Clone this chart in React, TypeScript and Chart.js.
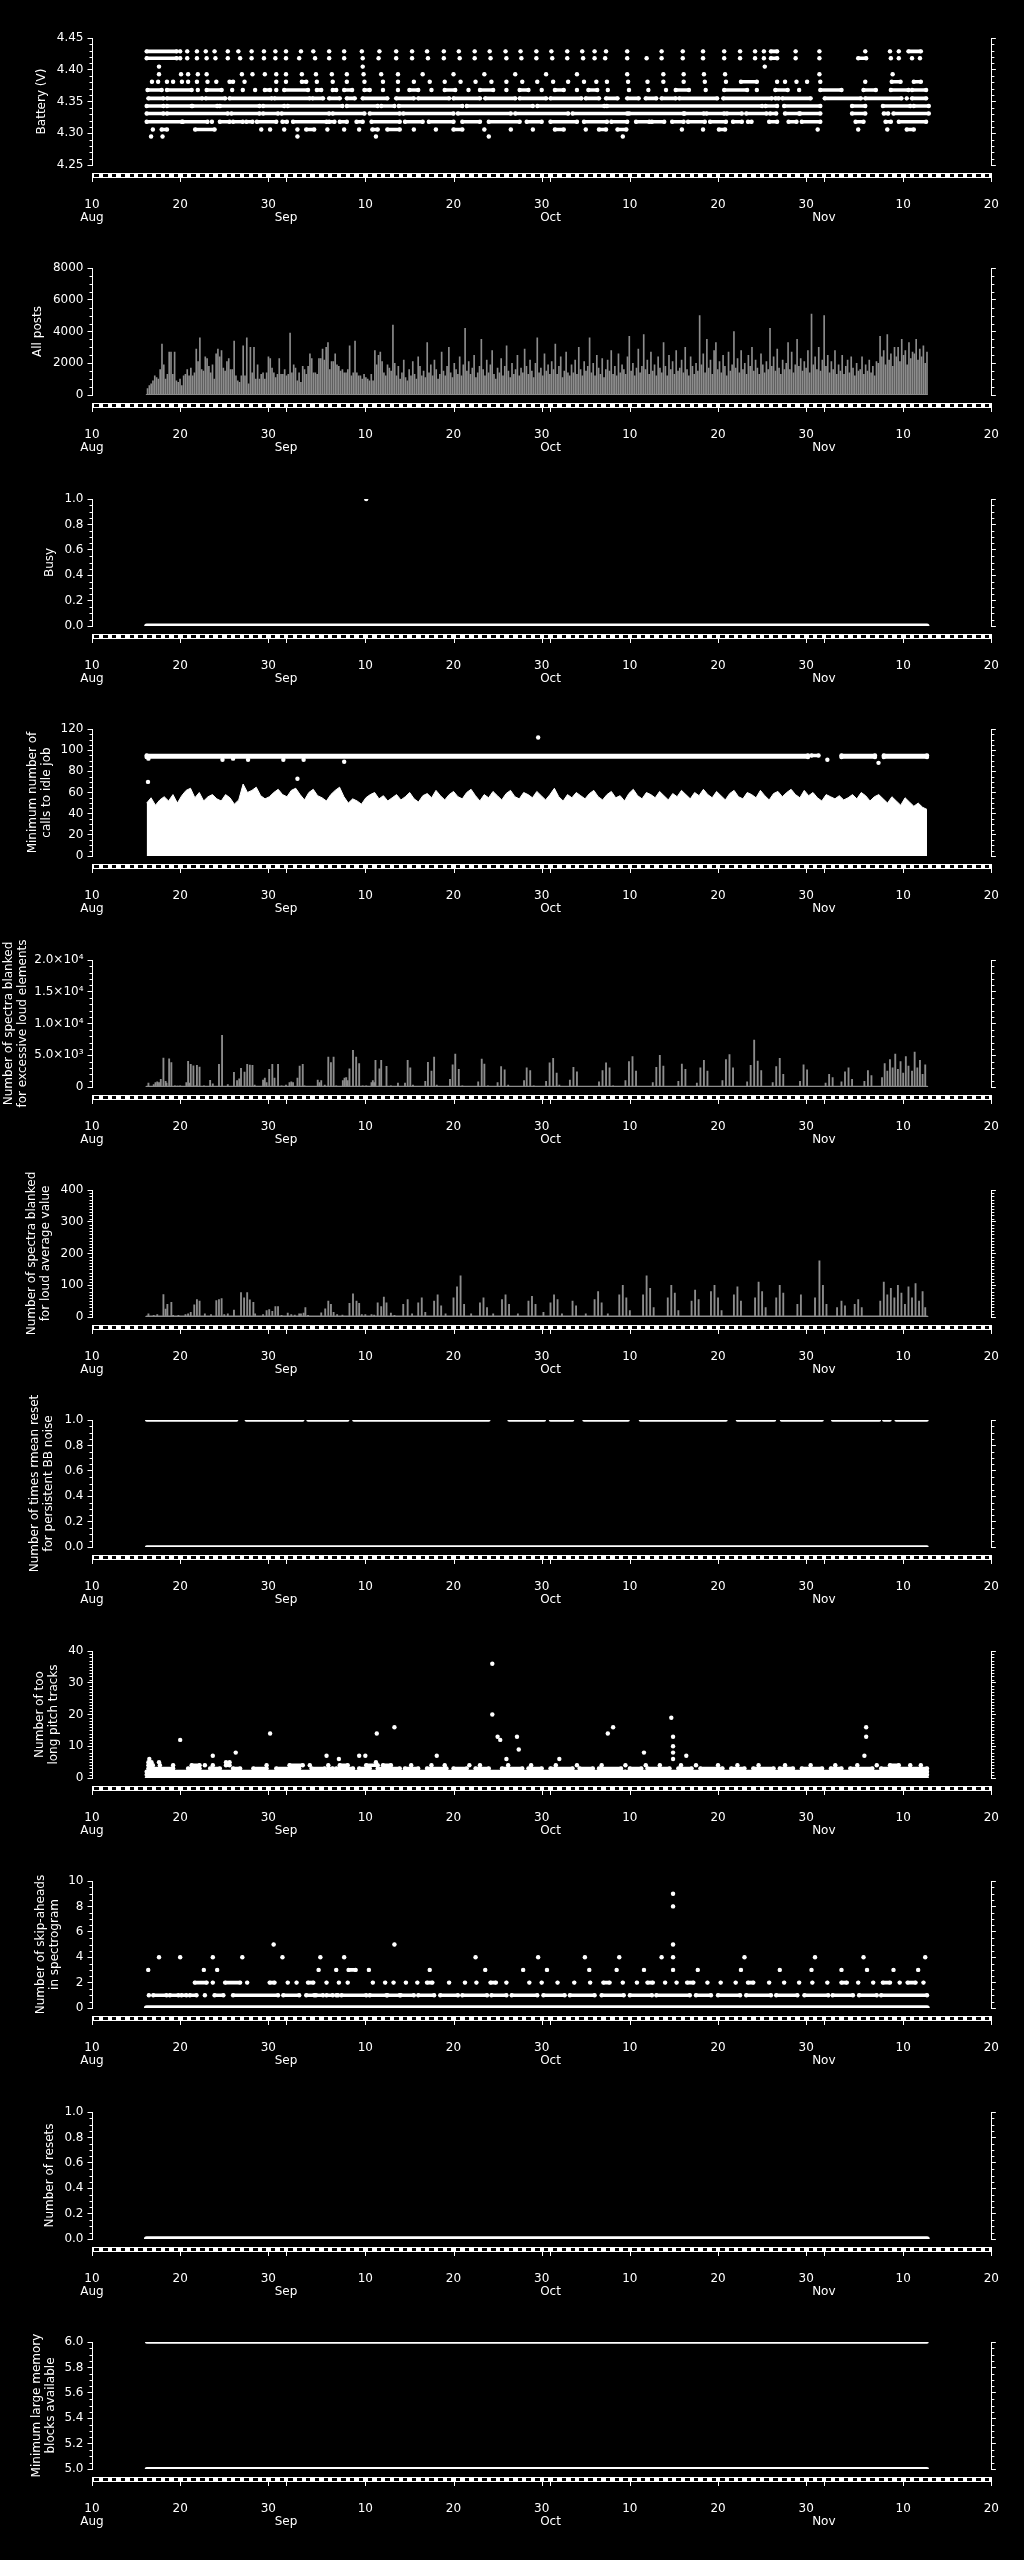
import React, { useEffect, useRef } from "react";
import { Chart, registerables } from "chart.js";

Chart.register(...registerables);

const FONT_FAMILY = "'DejaVu Sans', sans-serif";
const WHITE = "#ffffff";
const GREY = "#8c8c8c";

// ---------------- time axis: days since 10 Aug ----------------
const X_MIN = 0;
const X_MAX = 102;
const X_TICK_DAYS = [0, 10, 20, 22, 31, 41, 51, 52, 61, 71, 81, 83, 92, 102];
const X_TICK_LABELS = [["10", "Aug"], ["20"], ["30"], ["", "Sep"], ["10"], ["20"], ["30"], ["", "Oct"], ["10"], ["20"], ["30"], ["", "Nov"], ["10"], ["20"]];
const DATA_START = 6.2;
const DATA_END = 94.7;

// ---------------- Panel 1: Battery (V) ----------------
const BATT_LEVELS = [4.429, 4.418, 4.405, 4.393, 4.381, 4.368, 4.355, 4.343, 4.331, 4.318, 4.306, 4.295];
const BATT_4429 = [[6.2, 9.6], 10.0, 10.8, 11.9, 12.9, 13.9, 15.4, 16.6, 18.1, 19.5, 20.8, 22.0, 23.7, 25.1, 26.9, 28.6, 30.6, 32.6, 34.5, 36.3, 38.0, 39.9, 41.6, 43.4, 45.1, 46.9, 48.6, 50.4, 52.1, 53.9, 55.6, 57.0, 58.3, 60.7, 64.6, 67.0, 69.3, 71.7, 73.5, 75.2, 76.2, [77.0, 77.7], 79.8, 82.5, 87.7, 90.5, 91.5, [92.6, 94.0]];
const BATT_4418 = [[6.2, 9.6], 10.0, 10.8, 11.9, 13.0, 14.0, 15.4, 16.8, 18.1, 19.5, 20.8, 22.0, 23.5, 25.3, 26.9, 28.6, 30.7, 32.5, 34.5, 36.3, 38.1, 39.9, 41.7, 43.4, 45.2, 47.0, 48.7, 50.4, 52.2, 53.9, 55.7, 57.0, 58.2, 60.7, 62.9, 64.6, 67.0, 69.3, 71.7, 73.5, 75.2, 76.2, [77.0, 77.7], 79.8, 82.5, [86.9, 87.8], 90.6, 91.5, 93.0, 93.9];
const BATT_4405 = [7.6, 30.7, 76.3];
const BATT_4393 = [7.6, 10.1, 10.9, 12.0, 13.0, 17.0, 18.2, 19.6, 20.9, 22.0, 23.8, 25.4, 27.2, 28.9, 30.8, 32.8, 34.7, 37.5, 41.0, 44.5, 48.0, 51.5, 55.0, 60.7, 64.8, 67.1, 69.4, 71.8, 82.5, 90.8];
const BATT_4381 = [6.8, 7.5, 8.5, 9.2, 10.2, 10.9, 11.9, 13.1, 14.1, [15.6, 16.0], 17.3, 20.9, 22.0, [23.8, 24.3], 25.5, 27.3, 28.9, 30.9, 33.0, 34.7, 36.5, 38.3, 40.0, 41.8, 43.5, 45.3, 47.0, 48.8, 50.5, 52.3, 54.0, 55.8, 57.2, 58.4, 60.8, 63.0, 64.8, 67.1, 69.5, 71.9, [73.6, 75.4], 77.7, 78.6, 79.9, 81.1, 82.6, 87.7, [90.7, 91.7], [93.2, 94.0]];
const BATT_4368 = [[6.3, 7.9], [8.5, 11.3], 12.0, [13.0, 14.7], 15.9, 17.1, 18.5, [19.6, 20.2], 20.9, [21.8, 24.5], [25.5, 26.0], [27.3, 27.7], [28.6, 29.5], [30.9, 31.5], 33.0, 34.7, [36.0, 37.0], 38.5, [40.0, 41.2], 42.7, [44.0, 45.5], 47.0, [48.5, 49.5], 51.0, [52.5, 53.5], 55.0, [56.3, 57.3], 58.5, 60.9, 63.1, 65.1, [66.2, 67.7], 69.6, [71.7, 74.3], 75.4, [77.5, 78.9], 80.2, [82.6, 85.0], [87.5, 88.9], [90.6, 92.6], [93.0, 94.6]];
const BATT_4355 = [[6.4, 8.1], [8.5, 12.5], [12.9, 15.1], [15.6, 20.4], [20.7, 24.7], [25.0, 26.2], [26.9, 28.1], [28.9, 29.8], [30.7, 33.5], [34.5, 36.5], [37.0, 40.5], [41.0, 44.0], [44.6, 48.0], [48.5, 51.5], [52.0, 55.5], [56.0, 57.5], [58.3, 59.6], [60.7, 62.0], [62.8, 64.0], [64.6, 66.2], [66.6, 70.9], [71.6, 77.1], [77.5, 77.9], [78.3, 81.5], [83.1, 87.2], [87.7, 91.8], 92.4, [93.0, 94.6]];
const BATT_4343 = [[6.2, 8.1], [8.5, 11.3], [11.4, 14.2], [14.5, 19.0], [19.4, 21.8], [22.2, 28.4], [28.9, 32.4], [32.8, 34.3], [34.8, 42.0], [42.5, 50.0], [50.5, 58.1], [58.4, 76.0], [76.4, 77.7], [78.5, 82.6], [86.2, 87.7], [89.7, 92.8], [93.2, 94.9]];
const BATT_4331 = [[6.2, 8.1], [8.5, 15.4], [15.8, 19.0], [19.4, 21.1], [21.5, 26.9], [27.3, 30.9], [31.5, 34.9], [35.3, 41.0], [41.5, 47.5], [48.0, 54.0], [54.5, 60.7], [60.9, 67.1], [67.2, 69.4], [69.7, 71.7], [72.0, 73.7], [74.2, 76.5], [76.9, 77.6], [78.6, 80.2], [80.3, 82.6], [86.2, 87.7], [89.8, 90.3], [90.9, 94.9]];
const BATT_4318 = [[6.2, 10.2], [10.3, 13.1], 13.6, [14.5, 15.6], [16.0, 17.1], [17.5, 18.2], [18.7, 20.9], [21.6, 22.1], [22.8, 26.6], [26.9, 27.5], [28.1, 28.9], [30.0, 30.7], [31.7, 34.9], [35.5, 37.5], [38.2, 41.0], [42.0, 44.0], [45.0, 48.5], [49.3, 51.0], [52.0, 55.0], [55.8, 58.4], [58.9, 60.7], [61.7, 63.2], [63.5, 64.9], [65.8, 67.1], [67.6, 69.5], [70.1, 71.9], [72.7, 73.7], [74.4, 74.8], [76.8, 77.7], [79.0, 79.9], [80.5, 82.6], [86.6, 87.5], [90.0, 90.6], [91.5, 94.6]];
const BATT_4306 = [6.9, [7.9, 8.5], [11.7, 13.9], 19.2, 20.2, 21.8, 23.3, [24.3, 25.2], 26.7, 28.6, 30.3, [31.8, 32.4], [33.5, 34.9], 36.5, 39.0, [41.0, 42.0], 44.5, 47.5, 50.0, [52.5, 53.5], 56.0, [57.5, 58.3], [59.6, 60.6], 66.9, 69.3, [71.1, 71.8], 82.3, 86.9, 90.2, [92.4, 93.2]];
const BATT_4295 = [6.7, 8.0, 23.3, 32.2, 45.0, 60.2];
const BATT_ROWS = [BATT_4429, BATT_4418, BATT_4405, BATT_4393, BATT_4381, BATT_4368, BATT_4355, BATT_4343, BATT_4331, BATT_4318, BATT_4306, BATT_4295];

// ---------------- Panel 2: All posts (values in hundreds, evenly spaced samples) ----------------
const POSTS_START = 6.3;
const POSTS_END = 94.7;
const POSTS_HUNDREDS = [
  4, 6, 7, 9, 12, 11, 10, 16, 32, 19, 10, 13, 27, 27, 13, 27, 9, 8, 10, 6,
  12, 13, 16, 12, 17, 12, 14, 29, 21, 36, 16, 15, 24, 23, 18, 14, 19, 10, 26, 29,
  24, 28, 17, 15, 21, 23, 16, 16, 34, 12, 9, 8, 12, 31, 12, 36, 7, 30, 14, 30,
  10, 19, 10, 13, 14, 10, 14, 24, 23, 17, 14, 11, 13, 23, 13, 13, 16, 12, 13, 39,
  14, 19, 17, 9, 14, 8, 18, 16, 13, 18, 26, 23, 14, 14, 13, 23, 23, 29, 22, 30,
  33, 16, 21, 21, 26, 19, 18, 15, 16, 14, 14, 16, 31, 12, 14, 34, 14, 12, 12, 10,
  13, 11, 10, 9, 13, 9, 28, 19, 25, 27, 21, 14, 12, 19, 17,
  15, 44, 20, 12, 18, 10, 14, 22, 11, 9, 16, 12, 21, 13, 10, 24, 18, 12, 15, 11,
  33, 14, 19, 12, 22, 16, 10, 13, 27, 15, 12, 18, 30, 14, 11, 20, 16, 13, 24, 12,
  19, 42, 15, 21, 13, 17, 25, 11, 14, 18, 35, 16, 12, 22, 14, 19, 28, 13, 10, 17,
  14, 23, 12, 18, 31, 15, 11, 20, 13, 16, 25, 12, 17, 14, 29, 18, 13, 22, 15, 11,
  20, 36, 14, 17, 12, 26, 15, 19, 13, 21, 16, 32, 13, 18, 24, 11, 15, 27, 14, 12,
  19, 14, 22, 13, 30, 16, 12, 21, 15, 18, 36, 14, 20, 12, 25, 17, 13, 23, 11, 16,
  22, 15, 28, 13, 18, 12, 26, 14, 19, 16, 13, 24, 37, 15, 20, 12, 17, 29, 14, 18,
  38, 16, 22, 13, 27, 15, 19, 12, 24, 17, 14, 33, 18, 12, 25, 16, 21, 13, 28, 15,
  17, 22, 14, 30, 16, 12, 24, 18, 13, 20, 15, 50, 19, 26, 14, 35, 17, 22, 13, 28,
  33, 16, 21, 14, 25, 18, 12, 27, 15, 19, 40, 17, 23, 14, 28, 16, 20, 13, 25, 18,
  30, 15, 22, 17, 13, 26, 19, 14, 21, 16, 42, 18, 24, 15, 29, 17, 13, 22, 16, 20,
  33, 16, 27, 14, 19, 35, 18, 23, 15, 21, 17, 28, 14, 51, 19, 24, 16, 30, 15, 22,
  50, 18, 25, 14, 21, 16, 28, 13, 19, 15, 25, 13, 18, 22, 14, 24, 17, 12, 20, 15,
  16, 24, 13, 19, 15, 22, 14, 18, 12, 21, 20, 37, 24, 28, 19, 38, 22, 26, 18, 30,
  24, 30, 21, 35, 25, 28, 19, 33, 23, 27, 26, 35, 22, 29, 24, 31, 20, 27
];

// ---------------- Panel 3: Busy ----------------
const BUSY_ZERO_RUNS = [[DATA_START, DATA_END]];
const BUSY_ONE_POINTS = [31.1];

// ---------------- Panel 4: Minimum number of calls to idle job ----------------
const IDLE_CLOUD_TOP = [
  50, 55, 48, 53, 56, 52, 58, 50, 57, 62, 64, 55, 60, 52, 56, 58,
  54, 52, 58, 55, 49, 53, 68, 60, 62, 65, 57, 54, 56, 60, 63, 58,
  56, 62, 64, 58, 53, 60, 63, 57, 55, 52, 58, 62, 65, 56, 50, 54,
  52, 49, 55, 58, 60, 54, 57, 52, 55, 58, 53, 56, 60, 54, 51, 57,
  59, 55, 62, 57, 53, 58, 61, 56, 54, 60, 63, 57, 52, 58, 55, 61,
  57, 53, 59, 62, 56, 54, 60, 58, 55, 61, 57, 53, 58, 64, 56, 52,
  58, 55, 60, 57, 54, 59, 62, 56, 53, 58, 61, 55, 57, 52, 59, 63,
  57, 54, 60, 58, 55, 61, 57, 53, 59, 56, 62, 58, 54, 60, 57, 63,
  58, 55, 61, 57, 53, 59, 62, 56, 54, 60, 58, 55, 62, 57, 53, 59,
  61, 56, 60, 63, 58, 55, 62, 57, 60, 55, 52, 58, 56, 54, 57, 53,
  55, 58, 54, 60, 57, 52, 56, 58, 54, 50, 56, 52, 48, 55, 51, 47,
  50, 46, 44
];
const IDLE_BAND_95 = [[6.2, 81.2], [81.6, 82.4], [85.0, 88.8], [89.8, 94.7]];
const IDLE_BAND_94 = [[6.2, 81.2], [85.0, 88.8], [89.8, 94.7]];
const IDLE_POINTS = [[6.35, 70], [6.4, 92], [14.8, 91], [16.0, 92], [17.7, 91], [21.7, 91], [23.3, 73], [24.0, 91], [28.6, 89], [50.6, 112], [83.4, 91], [89.2, 88]];

// ---------------- Panel 5: spectra blanked for excessive loud elements ----------------
const LOUD_ELEM_BARS = [
  [6.4, 600], [7.0, 400], [7.2, 700], [7.4, 800], [7.6, 700], [7.8, 1200], [8.1, 4560], [8.35, 900], [8.45, 600], [8.75, 4450], [9.0, 3830], [9.4, 200], [9.7, 150], [10.0, 200],
  [10.7, 700], [10.9, 4030], [11.1, 600], [11.2, 3560], [11.5, 3350], [11.7, 200], [11.9, 3400], [12.2, 3140], [12.7, 200], [13.4, 1050], [13.7, 500], [14.4, 3560], [14.75, 8120],
  [15.4, 400], [16.1, 2300], [16.45, 1000], [16.7, 1300], [16.9, 2930], [17.3, 2360], [17.6, 3560], [17.9, 3450], [18.2, 3400], [18.45, 300], [19.4, 1100], [19.6, 1400], [19.8, 700],
  [20.1, 2780], [20.45, 3560], [20.7, 1400], [21.1, 3560], [21.5, 200], [22.0, 300], [22.4, 700], [22.6, 800], [22.8, 700], [23.3, 1400], [23.55, 3300], [23.9, 3560], [24.1, 200],
  [25.6, 1100], [25.8, 700], [26.0, 1000], [26.4, 300], [26.8, 4720], [27.1, 3830], [27.4, 4720], [27.7, 200], [28.45, 1000], [28.64, 1400], [28.83, 1500], [29.0, 1000], [29.2, 2880],
  [29.6, 5760], [29.96, 4720], [30.3, 3670], [30.7, 200], [31.1, 200], [31.7, 700], [31.85, 1000], [32.0, 700], [32.15, 4190], [32.6, 2880], [32.8, 4190], [33.4, 3250], [33.9, 200], [34.7, 600],
  [35.5, 600], [35.8, 4200], [36.1, 3000], [36.4, 300], [37.8, 900], [38.1, 3900], [38.5, 2500], [38.8, 4700], [39.1, 300], [40.6, 1200], [40.9, 3500], [41.2, 5200], [41.6, 2800], [42.0, 200],
  [43.8, 800], [44.2, 4400], [44.5, 3600], [44.9, 200], [46.0, 700], [46.4, 3200], [46.8, 2700], [47.2, 300], [49.0, 1000], [49.3, 3000], [49.7, 2600], [50.1, 200],
  [51.5, 900], [51.9, 3800], [52.3, 4500], [52.7, 2200], [53.0, 300], [54.2, 1100], [54.6, 3100], [55.0, 2400], [57.5, 800], [57.9, 2600], [58.3, 3800], [58.7, 3000], [59.1, 200],
  [60.5, 1000], [60.9, 4000], [61.3, 4800], [61.7, 2500], [63.6, 700], [64.0, 3100], [64.4, 5000], [64.8, 3300], [66.5, 900], [66.9, 3600], [67.3, 2800],
  [68.6, 600], [69.0, 3000], [69.4, 4200], [69.8, 2500], [71.5, 1000], [71.9, 4300], [72.3, 5100], [72.7, 3000], [74.3, 800], [74.7, 3400], [75.1, 7400], [75.5, 4100], [75.9, 2600],
  [77.2, 700], [77.6, 3200], [78.0, 4500], [78.4, 2000], [80.3, 900], [80.7, 3500], [81.1, 2700], [83.2, 600], [83.6, 2000], [84.0, 1500], [85.0, 800], [85.4, 2400], [85.8, 3000], [86.2, 1200],
  [87.6, 900], [88.0, 2600], [88.4, 1800], [89.6, 1500], [89.9, 3700], [90.2, 2500], [90.5, 4300], [90.8, 3000], [91.1, 5200], [91.4, 2800], [91.7, 4000], [92.0, 2200], [92.3, 4800],
  [92.6, 3300], [93.0, 2500], [93.3, 5500], [93.6, 3000], [93.9, 4200], [94.2, 2000], [94.5, 3500]
];

// ---------------- Panel 6: spectra blanked for loud average value ----------------
const LOUD_AVG_BARS = [
  [6.4, 10], [7.0, 5], [7.4, 8], [8.1, 71], [8.35, 25], [8.55, 40], [9.0, 46], [9.2, 5], [9.8, 5], [10.6, 8], [10.9, 10], [11.2, 15], [11.6, 38], [11.9, 55], [12.2, 50], [12.8, 10],
  [13.5, 8], [14.1, 52], [14.4, 55], [14.7, 58], [15.0, 8], [15.4, 10], [16.1, 22], [16.9, 77], [17.25, 60], [17.6, 77], [17.9, 54], [18.3, 46], [18.5, 10], [19.4, 8], [19.8, 20],
  [20.1, 23], [20.45, 18], [20.8, 33], [21.1, 33], [21.5, 5], [22.2, 12], [22.6, 8], [23.0, 6], [23.5, 10], [23.7, 10], [24.0, 12], [24.2, 30], [24.5, 5], [26.0, 13], [26.45, 26],
  [26.8, 50], [27.1, 40], [27.4, 15], [27.8, 8], [28.4, 6], [29.2, 43], [29.6, 73], [30.0, 50], [30.3, 43], [30.6, 8], [31.0, 8], [31.7, 8], [32.0, 6], [32.4, 45], [32.8, 33],
  [33.1, 63], [33.4, 45], [33.9, 12], [34.3, 5],
  [35.3, 40], [35.8, 55], [36.3, 10], [37.0, 45], [37.4, 60], [37.8, 15], [38.8, 50], [39.2, 70], [39.6, 35], [40.1, 10], [41.0, 60], [41.4, 95], [41.8, 130], [42.2, 40], [43.0, 10],
  [44.0, 45], [44.4, 60], [44.8, 30], [45.5, 10], [46.5, 55], [46.9, 70], [47.3, 40], [48.3, 10], [49.5, 50], [49.9, 65], [50.3, 40], [51.2, 15], [52.0, 45], [52.4, 70], [52.8, 55],
  [53.3, 10], [54.5, 50], [54.9, 35], [56.0, 10], [57.0, 55], [57.4, 80], [57.8, 45], [58.5, 10], [59.8, 70], [60.2, 100], [60.6, 60], [61.0, 20], [62.5, 70], [62.9, 130], [63.3, 90],
  [63.7, 30], [65.3, 60], [65.7, 100], [66.1, 75], [66.5, 20], [68.0, 50], [68.4, 85], [68.8, 55], [70.2, 80], [70.6, 100], [71.0, 60], [71.4, 20], [72.8, 70], [73.2, 95], [73.6, 50],
  [75.2, 60], [75.6, 110], [76.0, 80], [76.4, 30], [77.6, 60], [78.0, 100], [78.4, 75], [80.0, 40], [80.4, 70], [82.0, 60], [82.5, 177], [82.9, 100], [83.3, 40], [84.5, 30], [85.0, 50],
  [85.4, 35], [86.5, 40], [86.9, 55], [87.3, 30], [89.4, 50], [89.8, 110], [90.2, 70], [90.6, 90], [91.0, 60], [91.4, 100], [91.8, 75], [92.2, 40], [92.6, 95], [93.0, 60], [93.4, 105],
  [93.8, 50], [94.2, 80], [94.5, 30]
];

// ---------------- Panel 7: rmean reset ----------------
const RMEAN_ZERO_RUNS = [[DATA_START, DATA_END]];
const RMEAN_ONE_RUNS = [[6.2, 10.2], [10.4, 10.8], [10.9, 16.4], [17.5, 17.9], [18.1, 20.9], [21.1, 21.9], [22.1, 23.9], [24.5, 29.0], [29.7, 34.9], [35.0, 45.0], [47.3, 51.3], [52.0, 54.5], [55.8, 60.8], [62.2, 71.9], [73.2, 77.4], [78.2, 82.8], [84.0, 89.3], [89.8, 90.5], [91.2, 94.7]];

// ---------------- Panel 8: too long pitch tracks (integer levels) ----------------
const PITCH_L0 = [[DATA_START, DATA_END]];
const PITCH_L1 = [[DATA_START, DATA_END]];
const PITCH_L2 = [[6.2, 33.0], [33.3, 60.5], [60.8, 94.7]];
const PITCH_L3 = [[6.4, 9.2], [10.9, 12.2], [13.4, 14.5], [16.0, 16.8], [18.3, 19.8], [20.9, 23.5], [24.9, 26.4], [26.8, 27.3], [27.7, 29.6], [30.3, 31.5], [32.4, 34.9], [35.5, 37.0], [38.0, 40.2], [41.0, 42.5], [43.5, 45.0], [46.5, 48.8], [49.5, 51.0], [52.0, 54.5], [55.3, 56.8], [57.5, 60.0], [61.0, 62.3], [63.0, 65.5], [66.5, 68.0], [69.0, 71.5], [72.5, 74.0], [75.0, 77.3], [78.0, 79.5], [80.5, 82.8], [83.8, 85.0], [86.0, 88.5], [89.5, 94.7]];
const PITCH_L4 = [[6.4, 6.9], 7.7, 9.2, [11.3, 12.2], 12.8, 13.7, [15.2, 15.6], 19.8, [22.4, 23.9], 24.7, 26.8, [28.1, 29.0], [31.1, 32.4], [33.0, 33.9], 36.2, 38.5, 40.0, 42.8, 44.0, 47.2, 49.8, 52.6, 55.0, 57.8, 60.5, 62.8, 64.4, 66.8, 68.5, 71.0, 73.2, 75.6, 78.6, 81.5, 84.3, 86.8, 89.0, [90.5, 91.5], 92.8, 94.0];
const PITCH_OUTLIERS = [[6.4, 5], [6.5, 6], [6.75, 5], [7.6, 5], [10.0, 12], [13.7, 7], [15.2, 5], [15.6, 5], [16.3, 8], [20.2, 14], [26.6, 7], [28.0, 6], [30.3, 7], [31.0, 7], [32.2, 5], [32.3, 14], [34.3, 16], [39.1, 7], [45.4, 36], [45.4, 20], [46.0, 13], [46.3, 12], [47.0, 6], [48.2, 13], [48.4, 9], [53.0, 6], [58.5, 14], [59.1, 16], [62.6, 8], [65.7, 19], [65.9, 13], [65.9, 10], [65.9, 8], [65.9, 6], [67.4, 7], [87.6, 7], [87.8, 16], [87.8, 13]];

// ---------------- Panel 9: skip-aheads (integer levels) ----------------
const SKIP_L0 = [[DATA_START, DATA_END]];
const SKIP_L1 = [6.45, [6.95, 8.45], [8.83, 9.8], [10.15, 10.7], [11.1, 11.85], 12.8, [13.9, 14.9], [16.0, 21.1], [21.7, 23.5], [24.3, 25.2], [25.4, 26.2], [26.6, 27.3], [27.7, 27.9], [28.3, 31.1], [31.5, 33.4], [33.5, 34.9], [35.0, 36.5], [37.0, 38.8], [39.5, 41.5], [42.0, 44.8], [45.3, 47.0], [47.6, 50.5], [51.2, 53.6], [54.2, 57.0], [57.8, 60.3], [61.0, 63.5], [64.0, 67.8], [68.5, 70.2], [71.0, 73.5], [74.2, 77.0], [77.6, 80.0], [80.8, 83.5], [84.0, 86.3], [87.0, 89.0], [89.5, 94.7]];
const SKIP_L2 = [[11.66, 13.0], 13.7, [15.1, 16.8], 17.6, [20.15, 20.7], 22.2, 23.2, [24.5, 25.1], 26.6, 28.0, 29.0, 31.85, 33.25, 34.2, 35.6, 36.9, [38.0, 38.6], 40.5, 42.3, 43.6, [45.2, 45.8], 47.0, 49.6, 51.0, 52.8, 54.7, 56.5, [58.0, 58.7], 60.2, 61.8, [63.0, 63.6], 65.0, 66.3, [67.5, 68.2], 69.8, 71.3, 73.0, [74.4, 75.0], 76.8, 78.5, 80.2, 81.7, 83.4, [85.0, 85.6], 86.9, 88.6, [89.7, 90.5], 91.6, [92.5, 93.4], 94.3];
const SKIP_L3 = [6.38, 12.68, 14.2, 25.7, 27.7, [29.1, 29.9], 31.4, 38.3, 44.6, 48.9, 51.6, 56.4, 59.5, 62.6, 65.9, 68.7, 73.6, 78.0, 81.6, 85.0, 87.9, 90.9, 93.7];
const SKIP_L4 = [7.6, 10.0, 13.7, 17.05, 21.6, 25.9, 28.6, 43.5, 50.6, 55.9, 59.8, 64.6, 65.9, 74.0, 82.0, 87.5, 94.5];
const SKIP_L5 = [20.6, 34.3, 65.9];
const SKIP_L8 = [65.9];
const SKIP_L9 = [65.9];

// ---------------- Panel 10: resets ----------------
const RESET_ZERO_RUNS = [[DATA_START, DATA_END]];

// ---------------- Panel 11: min large memory blocks ----------------
const MEM_SIX_RUNS = [[DATA_START, DATA_END]];
const MEM_FIVE_RUNS = [[DATA_START, DATA_END]];

// ---------------- helpers ----------------
function runsToPoints(runs: any[], y: number) {
  const pts: any[] = [];
  runs.forEach((r) => {
    if (Array.isArray(r)) {
      pts.push({ x: r[0], y }, { x: r[1], y }, { x: r[1], y: null });
    } else {
      pts.push({ x: r, y }, { x: r, y: null });
    }
  });
  return pts;
}

function evenSeries(start: number, end: number, vals: number[], scale = 1) {
  const step = (end - start) / (vals.length - 1);
  return vals.map((v, i) => ({ x: start + i * step, y: v * scale }));
}

function runLine(runs: any[], y: number, width = 3.6, radius = 2.2, color = WHITE) {
  return {
    type: "line",
    data: runsToPoints(runs, y),
    showLine: true,
    spanGaps: false,
    borderColor: color,
    backgroundColor: color,
    borderWidth: width,
    borderCapStyle: "round",
    pointRadius: radius,
    pointBorderWidth: 0,
    pointBackgroundColor: color,
    pointHoverRadius: 0,
    fill: false,
    clip: 0,
    xAxisID: "x",
    yAxisID: "y",
  };
}

function pointSet(pairs: number[][], radius = 2.2, color = WHITE) {
  return {
    type: "scatter",
    data: pairs.map((p) => ({ x: p[0], y: p[1] })),
    showLine: false,
    pointRadius: radius,
    pointBorderWidth: 0,
    pointBackgroundColor: color,
    pointHoverRadius: 0,
    clip: 0,
    xAxisID: "x",
    yAxisID: "y",
  };
}

function barSet(points: any[], color = GREY, thickness = 1) {
  return {
    type: "bar",
    data: points,
    backgroundColor: color,
    borderWidth: 0,
    barThickness: thickness,
    grouped: false,
    clip: 0,
    xAxisID: "x",
    yAxisID: "y",
  };
}

function fillArea(points: any[], color = WHITE) {
  return {
    type: "line",
    data: points,
    fill: "origin",
    backgroundColor: color,
    borderColor: color,
    borderWidth: 1,
    pointRadius: 0,
    tension: 0,
    clip: 0,
    xAxisID: "x",
    yAxisID: "y",
  };
}

function range(min: number, max: number, step: number) {
  const out: number[] = [];
  const n = Math.round((max - min) / step);
  for (let i = 0; i <= n; i++) out.push(Math.round((min + i * step) * 1e6) / 1e6);
  return out;
}

const fmt1 = (v: number) => v.toFixed(1);
const fmt0 = (v: number) => String(Math.round(v));
const fmtSci = (v: number) => {
  if (v === 0) return "0";
  const labels: Record<string, string> = { "5000": "5.0×10³", "10000": "1.0×10⁴", "15000": "1.5×10⁴", "20000": "2.0×10⁴" };
  return labels[String(Math.round(v))] || String(v);
};

const PANELS: any[] = [
  {
    title: "Battery (V)", pad: 35, min: 4.25, max: 4.45, majors: range(4.25, 4.45, 0.05), minor: 0.01, fmt: (v: number) => v.toFixed(2),
    datasets: BATT_LEVELS.map((lv, i) => runLine(BATT_ROWS[i], lv)),
  },
  {
    title: "All posts", pad: 31, min: 0, max: 8000, majors: range(0, 8000, 2000), minor: 500, fmt: fmt0,
    datasets: [runLine([[DATA_START, DATA_END]], 0, 2, 0, GREY), barSet(evenSeries(POSTS_START, POSTS_END, POSTS_HUNDREDS, 100))],
  },
  {
    title: "Busy", pad: 43, min: 0, max: 1, majors: range(0, 1, 0.2), minor: 0.05, fmt: fmt1,
    datasets: [runLine(BUSY_ZERO_RUNS, 0, 5, 0), runLine(BUSY_ONE_POINTS, 1, 2, 2.2)],
  },
  {
    title: ["Minimum number of", "calls to idle job"], pad: 26, min: 0, max: 120, majors: range(0, 120, 20), minor: 5, fmt: fmt0,
    datasets: [fillArea(evenSeries(DATA_START, DATA_END, IDLE_CLOUD_TOP)), runLine(IDLE_BAND_95, 95), runLine(IDLE_BAND_94, 93.5), pointSet(IDLE_POINTS)],
  },
  {
    title: ["Number of spectra blanked", "for excessive loud elements"], pad: 2, min: 0, max: 20000, majors: range(0, 20000, 5000), minor: 1000, fmt: fmtSci,
    datasets: [runLine([[DATA_START, DATA_END]], 0, 2.5, 0, GREY), barSet(LOUD_ELEM_BARS.map((p) => ({ x: p[0], y: p[1] })), GREY, 1.2)],
  },
  {
    title: ["Number of spectra blanked", "for loud average value"], pad: 25, min: 0, max: 400, majors: range(0, 400, 100), minor: 10, fmt: fmt0,
    datasets: [runLine([[DATA_START, DATA_END]], 0, 3, 0, GREY), barSet(LOUD_AVG_BARS.map((p) => ({ x: p[0], y: p[1] })), GREY, 1.2)],
  },
  {
    title: ["Number of times rmean reset", "for persistent BB noise"], pad: 28, min: 0, max: 1, majors: range(0, 1, 0.2), minor: 0.05, fmt: fmt1,
    datasets: [runLine(RMEAN_ZERO_RUNS, 0, 3.5, 0), runLine(RMEAN_ONE_RUNS, 1, 3.5, 0)],
  },
  {
    title: ["Number of too", "long pitch tracks"], pad: 33, min: 0, max: 40, majors: range(0, 40, 10), minor: 1, fmt: fmt0,
    datasets: [runLine(PITCH_L0, 0, 4, 0), runLine(PITCH_L1, 1), runLine(PITCH_L2, 2), runLine(PITCH_L3, 3), runLine(PITCH_L4, 4), pointSet(PITCH_OUTLIERS)],
  },
  {
    title: ["Number of skip-aheads", "in spectrogram"], pad: 34, min: 0, max: 10, majors: range(0, 10, 2), minor: 0.5, fmt: fmt0,
    datasets: [runLine(SKIP_L0, 0, 5.5, 0), runLine(SKIP_L1, 1), runLine(SKIP_L2, 2), runLine(SKIP_L3, 3), runLine(SKIP_L4, 4), runLine(SKIP_L5, 5), runLine(SKIP_L8, 8), runLine(SKIP_L9, 9)],
  },
  {
    title: "Number of resets", pad: 43, min: 0, max: 1, majors: range(0, 1, 0.2), minor: 0.05, fmt: fmt1,
    datasets: [runLine(RESET_ZERO_RUNS, 0, 5.5, 0)],
  },
  {
    title: ["Minimum large memory", "blocks available"], pad: 30, min: 5, max: 6, majors: range(5, 6, 0.2), minor: 0.05, fmt: fmt1,
    datasets: [runLine(MEM_SIX_RUNS, 6, 3.5, 0), runLine(MEM_FIVE_RUNS, 5, 4, 0)],
  },
];

// ---------------- plugins ----------------
const minorTicksPlugin = {
  id: "minorTicks",
  afterDraw(chart: any, _args: any, opts: any) {
    const ys = chart.scales.y;
    const { ctx, chartArea } = chart;
    const vals: number[] = (opts && opts.values) || [];
    ctx.save();
    ctx.strokeStyle = WHITE;
    ctx.lineWidth = 1;
    vals.forEach((v) => {
      const py = Math.round(ys.getPixelForValue(v)) + 0.5;
      ctx.beginPath();
      ctx.moveTo(chartArea.left - 2.5, py);
      ctx.lineTo(chartArea.left, py);
      ctx.moveTo(chartArea.right, py);
      ctx.lineTo(chartArea.right + 3, py);
      ctx.stroke();
    });
    ctx.restore();
  },
};

const timeBarPlugin = {
  id: "timeBar",
  afterDraw(chart: any) {
    const { ctx, chartArea } = chart;
    const xs = chart.scales.x;
    const y0 = Math.round(chartArea.bottom) + 8;
    const h = 5;
    const xa = Math.round(xs.getPixelForValue(X_MIN));
    const xb = Math.round(xs.getPixelForValue(X_MAX)) + 1;
    ctx.save();
    ctx.fillStyle = WHITE;
    ctx.fillRect(xa, y0, xb - xa, h);
    ctx.fillStyle = "#000000";
    for (let d = X_MIN; d < X_MAX; d++) {
      const p0 = xs.getPixelForValue(d + 0.27);
      const p1 = xs.getPixelForValue(d + 0.77);
      ctx.fillRect(Math.round(p0), y0 + 1, Math.round(p1) - Math.round(p0), h - 2);
    }
    ctx.strokeStyle = WHITE;
    ctx.lineWidth = 1;
    X_TICK_DAYS.forEach((v) => {
      const px = Math.round(xs.getPixelForValue(v)) + 0.5;
      ctx.beginPath();
      ctx.moveTo(px, y0);
      ctx.lineTo(px, y0 + h + 4);
      ctx.stroke();
    });
    ctx.restore();
  },
};

function buildConfig(p: any) {
  const majors: number[] = p.majors;
  const all = range(p.min, p.max, p.minor);
  const minors = all.filter((v) => !majors.some((m) => Math.abs(m - v) < p.minor / 10));
  const tickFont = { family: FONT_FAMILY, size: 12, lineHeight: 1.1 };
  const yCommon = {
    type: "linear",
    min: p.min,
    max: p.max,
    offset: false,
    afterBuildTicks: (scale: any) => {
      scale.ticks = majors.map((v) => ({ value: v }));
    },
    border: { display: true, color: WHITE, width: 1 },
    grid: { display: true, offset: false, drawOnChartArea: false, drawTicks: true, tickLength: 4.5, tickColor: WHITE, tickWidth: 1 },
  };
  return {
    type: "scatter",
    data: { datasets: p.datasets },
    options: {
      responsive: false,
      maintainAspectRatio: false,
      animation: false,
      devicePixelRatio: 1,
      events: [],
      layout: { padding: { top: 38, left: 0, right: 0, bottom: 0 } },
      plugins: {
        legend: { display: false },
        tooltip: { enabled: false },
        minorTicks: { values: minors },
      },
      scales: {
        x: {
          type: "linear",
          position: "bottom",
          min: X_MIN,
          max: X_MAX,
          offset: false,
          bounds: "ticks",
          afterBuildTicks: (scale: any) => {
            scale.ticks = X_TICK_DAYS.map((v) => ({ value: v }));
          },
          afterFit: (scale: any) => {
            scale.height = 65;
          },
          border: { display: false },
          grid: { display: false, offset: false },
          ticks: {
            autoSkip: false,
            maxRotation: 0,
            minRotation: 0,
            padding: 25,
            color: WHITE,
            font: tickFont,
            callback: (_v: any, i: number) => X_TICK_LABELS[i],
          },
        },
        y: {
          ...yCommon,
          position: "left",
          afterFit: (scale: any) => {
            scale.width = 92;
          },
          ticks: { autoSkip: false, padding: 4, color: WHITE, font: tickFont, callback: (v: number) => p.fmt(v) },
          title: {
            display: true,
            text: p.title,
            color: WHITE,
            font: { family: FONT_FAMILY, size: 12, lineHeight: 14 / 12 },
            padding: { top: p.pad, bottom: 0 },
          },
        },
        y2: {
          ...yCommon,
          position: "right",
          afterFit: (scale: any) => {
            scale.width = 31;
          },
          ticks: { display: false },
        },
      },
    },
    plugins: [minorTicksPlugin, timeBarPlugin],
  };
}

const PANEL_STEP = 230.4;
const PANEL_H = 230;

export default function App() {
  const refs = useRef<(HTMLCanvasElement | null)[]>([]);

  useEffect(() => {
    Chart.defaults.font.family = FONT_FAMILY;
    Chart.defaults.color = WHITE;
    const charts: Chart[] = [];
    PANELS.forEach((p, i) => {
      const c = refs.current[i];
      if (!c) return;
      charts.push(new Chart(c, buildConfig(p) as any));
    });
    return () => {
      charts.forEach((ch) => ch.destroy());
    };
  }, []);

  return (
    <div style={{ position: "absolute", left: 0, top: 0, width: 1024, height: 2560, background: "#000000", overflow: "hidden" }}>
      {PANELS.map((_p, i) => (
        <div key={i} style={{ position: "absolute", left: 0, top: Math.round(i * PANEL_STEP), width: 1024, height: PANEL_H }}>
          <canvas
            ref={(el) => {
              refs.current[i] = el;
            }}
            width={1024}
            height={PANEL_H}
            style={{ display: "block", width: 1024, height: PANEL_H }}
          />
        </div>
      ))}
    </div>
  );
}
